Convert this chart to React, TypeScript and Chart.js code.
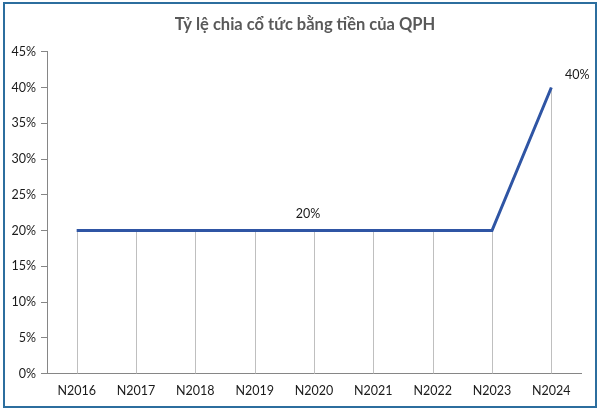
import React, { useEffect, useRef } from "react";
import { Chart, registerables } from "chart.js";

Chart.register(...registerables);

const categories = ["N2016", "N2017", "N2018", "N2019", "N2020", "N2021", "N2022", "N2023", "N2024"];
const dividendRate = [20, 20, 20, 20, 20, 20, 20, 20, 40];
const labeledIndices = [4, 8];
const yTicks = [0, 5, 10, 15, 20, 25, 30, 35, 40, 45];
const titleText = "Tỷ lệ chia cổ tức bằng tiền của QPH";

const FONT = "Lato, 'Open Sans', sans-serif";

const dropLinesPlugin = {
  id: "dropLines",
  beforeDatasetsDraw(chart: any) {
    const { ctx } = chart;
    const meta = chart.getDatasetMeta(0);
    const yScale = chart.scales.y;
    const base = yScale.getPixelForValue(0);
    ctx.save();
    ctx.strokeStyle = "#BFBFBF";
    ctx.lineWidth = 1;
    meta.data.forEach((pt: any) => {
      const x = Math.round(pt.x) + 0.5;
      ctx.beginPath();
      ctx.moveTo(x, pt.y);
      ctx.lineTo(x, base);
      ctx.stroke();
    });
    ctx.restore();
  },
};

const labelsPlugin = {
  id: "valueLabels",
  afterDatasetsDraw(chart: any) {
    const { ctx } = chart;
    const meta = chart.getDatasetMeta(0);
    ctx.save();
    ctx.font = `12.5px ${FONT}`;
    ctx.fillStyle = "#1a1a1a";
    ctx.textAlign = "center";
    ctx.textBaseline = "middle";
    labeledIndices.forEach((i) => {
      const pt = meta.data[i];
      const last = i === dividendRate.length - 1;
      const dx = last ? 26 : -6;
      const dy = last ? -13 : -17;
      ctx.fillText(dividendRate[i] + "%", pt.x + dx, pt.y + dy);
    });
    ctx.restore();
  },
};

// Draws the title text centred over the plot (the built-in title only reserves the space)
const titlePlugin = {
  id: "shiftedTitle",
  afterDraw(chart: any) {
    const { ctx, chartArea } = chart;
    const tb = chart.titleBlock;
    if (!tb) return;
    ctx.save();
    ctx.font = `bold 16.5px ${FONT}`;
    ctx.fillStyle = "#595959";
    ctx.textAlign = "center";
    ctx.textBaseline = "middle";
    const cx = (chartArea.left + chartArea.right) / 2 - 9;
    const cy = tb.top + 15 + 10;
    ctx.fillText(titleText, cx, cy);
    ctx.restore();
  },
};

export default function App() {
  const ref = useRef<HTMLCanvasElement | null>(null);

  useEffect(() => {
    if (!ref.current) return;
    const chart = new Chart(ref.current, {
      type: "line",
      data: {
        labels: categories,
        datasets: [
          {
            data: dividendRate,
            borderColor: "#2F55A4",
            borderWidth: 3,
            pointRadius: 0,
            tension: 0,
            fill: false,
          },
        ],
      },
      options: {
        animation: false,
        responsive: true,
        maintainAspectRatio: false,
        layout: { padding: { left: 0, right: 17, top: 0, bottom: 0 } },
        plugins: {
          legend: { display: false },
          tooltip: { enabled: false },
          title: {
            display: true,
            text: titleText,
            color: "rgba(0,0,0,0)",
            font: { family: FONT, size: 16.5, weight: "bold" },
            padding: { top: 15, bottom: 17 },
          },
        },
        scales: {
          x: {
            type: "category",
            offset: true,
            grid: { display: false, drawTicks: false },
            border: { display: true, color: "#868686", width: 1 },
            ticks: {
              color: "#1a1a1a",
              font: { family: FONT, size: 12.5 },
              padding: 10,
              maxRotation: 0,
            },
            afterFit: (s: any) => {
              s.height = 40.5;
            },
          },
          y: {
            min: 0,
            max: 45,
            afterBuildTicks: (s: any) => {
              s.ticks = yTicks.map((v) => ({ value: v }));
            },
            grid: {
              drawOnChartArea: false,
              drawTicks: true,
              tickLength: 6,
              color: "#868686",
            },
            border: { display: true, color: "#868686", width: 1 },
            ticks: {
              color: "#1a1a1a",
              font: { family: FONT, size: 12.5 },
              padding: 5,
              callback: (v: any) => v + "%",
            },
            afterFit: (s: any) => {
              s.width = 47;
            },
          },
        },
      },
      plugins: [dropLinesPlugin, labelsPlugin, titlePlugin],
    });
    return () => chart.destroy();
  }, []);

  return (
    <div style={{ position: "fixed", left: 0, top: 0, width: 598, height: 414, background: "#fff" }}>
      <canvas ref={ref} />
      <div
        style={{
          position: "absolute",
          left: 3,
          top: 2,
          width: 594,
          height: 406,
          boxSizing: "border-box",
          border: "2px solid #2C6E9E",
          pointerEvents: "none",
        }}
      />
    </div>
  );
}
